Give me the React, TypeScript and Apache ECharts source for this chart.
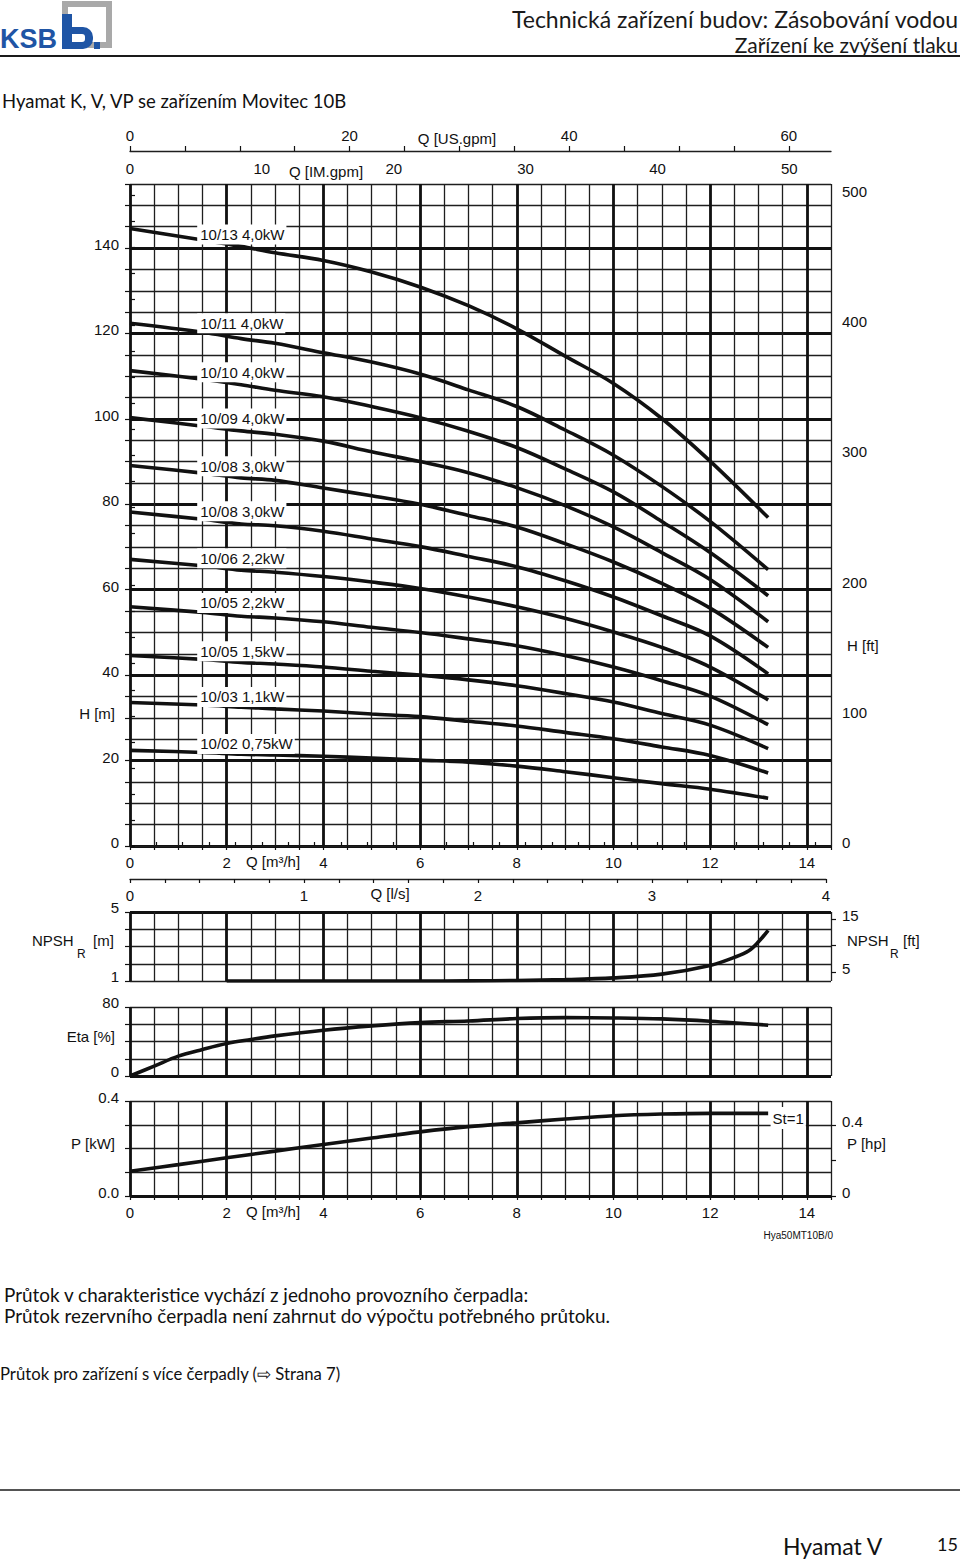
import React, { useEffect, useRef } from 'react';
import * as echarts from 'echarts';

// ---------------- data ----------------
const flowH = [0, 1.5, 2.3, 3, 4, 5, 6, 7, 8, 9, 10, 11, 12, 13.2];
const pumpLabels = [
  '10/13 4,0kW', '10/11 4,0kW', '10/10 4,0kW', '10/09 4,0kW', '10/08 3,0kW', '10/08 3,0kW',
  '10/06 2,2kW', '10/05 2,2kW', '10/05 1,5kW', '10/03 1,1kW', '10/02 0,75kW',
];
const head_10_13 = [144.6, 141.9, 140.4, 138.9, 137.1, 134.4, 130.9, 126.5, 121.1, 114.7, 108.3, 100.1, 90.1, 76.9];
const head_10_11 = [122.4, 120.3, 118.8, 117.7, 115.5, 113.3, 110.5, 106.8, 102.9, 97.4, 91.5, 84.2, 76.0, 64.7];
const head_10_10 = [111.3, 109.3, 108.0, 106.7, 105.2, 102.9, 100.3, 97.1, 93.3, 88.3, 82.9, 76.0, 68.7, 58.6];
const head_10_09 = [100.3, 98.3, 97.2, 96.4, 94.8, 92.3, 90.0, 87.4, 83.9, 79.7, 74.7, 68.7, 62.4, 52.5];
const head_10_08a = [89.1, 87.3, 86.2, 85.6, 83.8, 82.0, 80.0, 77.4, 74.7, 70.8, 66.5, 61.5, 55.7, 46.5];
const head_10_08b = [78.2, 76.5, 75.4, 75.0, 73.7, 71.9, 70.1, 67.8, 65.4, 62.1, 58.3, 53.9, 49.2, 40.3];
const head_10_06 = [67.1, 65.6, 64.6, 64.1, 63.1, 61.8, 60.3, 58.3, 56.0, 53.3, 50.1, 46.5, 41.9, 34.2];
const head_10_05a = [56.0, 54.7, 53.8, 53.4, 52.5, 51.2, 50.0, 48.5, 46.9, 44.6, 41.9, 38.7, 35.1, 28.4];
const head_10_05b = [44.6, 43.7, 43.0, 42.6, 41.9, 40.9, 40.0, 38.9, 37.5, 35.7, 33.7, 31.0, 28.3, 22.8];
const head_10_03 = [33.6, 33.0, 32.5, 32.1, 31.6, 30.9, 30.3, 29.2, 28.1, 26.6, 25.1, 23.2, 21.2, 17.1];
const head_10_02 = [22.4, 21.9, 21.5, 21.3, 21.0, 20.6, 20.1, 19.6, 18.7, 17.4, 16.0, 14.6, 13.3, 11.2];
const headCurves = [head_10_13, head_10_11, head_10_10, head_10_09, head_10_08a, head_10_08b, head_10_06, head_10_05a, head_10_05b, head_10_03, head_10_02];

const flowNpsh = [2, 4, 6, 7, 8, 9, 10, 11, 12, 12.5, 12.8, 13, 13.2];
const npshR = [1.0, 1.0, 1.0, 1.01, 1.03, 1.08, 1.18, 1.4, 1.9, 2.37, 2.75, 3.27, 3.94];

const flowEta = [0, 0.5, 1, 1.5, 2, 2.5, 3, 4, 5, 6, 7, 8, 9, 10, 11, 12, 13.2];
const etaPct = [0, 11.5, 23, 30.8, 37.7, 42.3, 46.5, 53.1, 58.1, 61.9, 63.8, 66.6, 67.7, 67.3, 66.2, 63.5, 58.9];

const flowP = [0, 1, 2, 3, 4, 5, 6, 7, 8, 9, 10, 11, 12, 13.2];
const powerKw = [0.104, 0.132, 0.161, 0.189, 0.217, 0.244, 0.27, 0.292, 0.308, 0.324, 0.338, 0.345, 0.348, 0.348];

// tick labels
const qM3hTicks = [0, 2, 4, 6, 8, 10, 12, 14];
const qImTicks = [0, 10, 20, 30, 40, 50];
const qUsTicks = [0, 20, 40, 60];
const qLsTicks = [0, 1, 2, 3, 4];
const hMTicks = [0, 20, 40, 60, 80, 100, 120, 140];
const hFtTicks = [0, 100, 200, 300, 400, 500];
const npshMTicks = [1, 5];
const npshFtTicks = [5, 15];
const etaTicks = [0, 80];
const pKwTicks = [0, 0.4];
const pHpTicks = [0, 0.4];

// label anchors (data units) for curve names
const labelAnchorQ = 1.39;
const labelAnchorH = [143.2, 122.4, 110.9, 100.1, 88.9, 78.4, 67.4, 56.9, 45.6, 34.9, 23.9];

// ---------------- constants ----------------
const Q_MAX = 14.5;
const H_MAX = 155;
const M3H_PER_IMGPM = 0.272765;
const M3H_PER_USGPM = 0.2271247;
const M_PER_FT = 0.3048;
const KW_PER_HP = 0.7457;

const INK = '#111';
const FONT = "'Liberation Sans', Arial, sans-serif";
const HFONT = "Lato, 'Open Sans', sans-serif";
const THIN = { color: '#1e1e1e', width: 1.3 };
const THICK = { color: '#111', width: 2.8 };
const LBL = { color: INK, fontFamily: FONT, fontSize: 15 };

const range = (a: number, b: number, step: number) => {
  const out: number[] = [];
  for (let i = 0; a + i * step <= b + 1e-9; i++) out.push(+(a + i * step).toFixed(6));
  return out;
};

const tickStyle = (length: number) => ({ show: true, length, lineStyle: { color: INK, width: 1.2 } });

// y labels sit a few pixels above their tick, as in the reference
const raised = (lh: number) => ({ verticalAlign: 'bottom', lineHeight: lh });

function gx(gridIndex: number, thick: boolean, extra: any = {}) {
  return {
    type: 'value', gridIndex, min: 0, max: Q_MAX, interval: thick ? 2 : 0.5, position: 'bottom',
    axisLine: { show: false }, axisTick: { show: false }, axisLabel: { show: false },
    splitLine: { show: true, lineStyle: thick ? THICK : THIN, showMaxLine: !thick },
    ...extra,
  };
}

function gy(gridIndex: number, min: number, max: number, interval: number, lineStyle: any, extra: any = {}) {
  return {
    type: 'value', gridIndex, min, max, interval, position: 'left',
    axisLine: { show: false }, axisTick: { show: false }, axisLabel: { show: false },
    splitLine: { show: true, lineStyle },
    ...extra,
  };
}

function sideAxis(gridIndex: number, min: number, max: number, interval: number, ticks: number[], labels: number[], extra: any = {}) {
  return {
    type: 'value', gridIndex, min, max, interval, position: 'right',
    axisLine: { show: false },
    axisTick: { ...tickStyle(5), customValues: ticks },
    axisLabel: { show: true, customValues: labels, margin: 11, ...LBL, ...raised(7) },
    splitLine: { show: false },
    ...extra,
  };
}

const txt = (text: string, x: number, y: number, o: any = {}) => ({
  type: 'text', x, y, silent: true,
  style: { text, fill: INK, fontFamily: FONT, fontSize: 15, align: 'left', verticalAlign: 'middle', ...o },
});

function buildOption() {
  const grid = [
    { left: 130, top: 184, width: 701, height: 662 }, // 0: H
    { left: 130, top: 846, width: 696, height: 33 }, // 1: l/s strip
    { left: 130, top: 912, width: 701, height: 69 }, // 2: NPSH
    { left: 130, top: 1007, width: 701, height: 69 }, // 3: Eta
    { left: 130, top: 1101, width: 701, height: 95 }, // 4: P
  ];

  const xAxis: any[] = [
    gx(0, false, { axisTick: tickStyle(4) }), // 0
    gx(0, true, { axisLabel: { show: true, customValues: qM3hTicks, margin: 9, ...LBL } }), // 1
    {
      type: 'value', gridIndex: 0, position: 'top', min: 0, max: Q_MAX / M3H_PER_IMGPM, interval: 2,
      axisLine: { show: true, lineStyle: THIN }, axisTick: { ...tickStyle(4), customValues: range(0, 52, 2) },
      axisLabel: { show: true, customValues: qImTicks, margin: 8, ...LBL }, splitLine: { show: false },
    }, // 2
    {
      type: 'value', gridIndex: 0, position: 'top', offset: 33, min: 0, max: Q_MAX / M3H_PER_USGPM, interval: 5,
      axisLine: { show: true, lineStyle: THIN }, axisTick: { ...tickStyle(5), customValues: range(0, 60, 5) },
      axisLabel: { show: true, customValues: qUsTicks, margin: 8, ...LBL }, splitLine: { show: false },
    }, // 3
    {
      type: 'value', gridIndex: 1, position: 'bottom', min: 0, max: 4, interval: 0.2,
      axisLine: { show: true, lineStyle: THIN }, axisTick: { ...tickStyle(4), customValues: range(0, 4, 0.2) },
      axisLabel: { show: true, customValues: qLsTicks, margin: 9, ...LBL }, splitLine: { show: false },
    }, // 4
    gx(2, false), // 5
    gx(2, true), // 6
    gx(3, false), // 7
    gx(3, true), // 8
    gx(4, false, { axisTick: tickStyle(4) }), // 9
    gx(4, true, { axisLabel: { show: true, customValues: qM3hTicks, margin: 9, ...LBL } }), // 10
  ];

  const yLabel = (values: number[], lh: number, fmt?: (v: number) => string) => ({
    show: true, customValues: values, margin: 11, ...LBL, ...raised(lh),
    ...(fmt ? { formatter: fmt } : {}),
  });

  const yAxis: any[] = [
    gy(0, 0, H_MAX, 5, THIN, { axisTick: tickStyle(5) }), // 0
    gy(0, 0, H_MAX, 20, THICK, { axisLabel: yLabel(hMTicks, 7), splitLine: { show: true, lineStyle: THICK, showMaxLine: false } }), // 1
    sideAxis(0, 0, H_MAX / M_PER_FT, 20, range(0, 500, 20), hFtTicks), // 2
    { type: 'value', gridIndex: 1, show: false, min: 0, max: 1 }, // 3
    gy(2, 1, 5, 1, THIN, { axisTick: tickStyle(5) }), // 4
    gy(2, 1, 5, 4, THICK, { axisLabel: yLabel(npshMTicks, 9), splitLine: { show: true, lineStyle: THICK, showMinLine: false } }), // 5
    sideAxis(2, 1 / M_PER_FT, 5 / M_PER_FT, 5, [5, 10, 15], npshFtTicks), // 6
    gy(3, 0, 80, 20, THIN, { axisTick: tickStyle(5) }), // 7
    gy(3, 0, 80, 80, THICK, { axisLabel: yLabel(etaTicks, 9), splitLine: { show: true, lineStyle: THICK, showMaxLine: false } }), // 8
    gy(4, 0, 0.4, 0.1, THIN, { axisTick: tickStyle(5) }), // 9
    gy(4, 0, 0.4, 0.4, THICK, { axisLabel: yLabel(pKwTicks, 8, (v: number) => v.toFixed(1)), splitLine: { show: true, lineStyle: THICK, showMaxLine: false } }), // 10
    sideAxis(4, 0, 0.4 / KW_PER_HP, 0.2, [0, 0.2, 0.4], pHpTicks, {
      axisLabel: { show: true, customValues: pHpTicks, margin: 11, ...LBL, ...raised(7), formatter: (v: number) => (v === 0 ? '0' : String(v)) },
    }), // 11
  ];

  const curveLine = { color: INK, width: 3.6 };
  const boxLabel = (text: string) => ({
    show: true, position: 'right', distance: 0, formatter: text, backgroundColor: '#fff',
    padding: [3, 2, 2, 3], ...LBL,
  });

  const series: any[] = headCurves.map((h, i) => ({
    type: 'line', name: pumpLabels[i], xAxisIndex: 0, yAxisIndex: 0,
    data: flowH.map((q, j) => [q, h[j]]), smooth: 0.35, symbol: 'none', silent: true,
    lineStyle: curveLine, z: 3,
    markPoint: {
      symbol: 'circle', symbolSize: 0, silent: true, animation: false,
      data: [{ coord: [labelAnchorQ, labelAnchorH[i]] }],
      label: boxLabel(pumpLabels[i]),
    },
  }));

  series.push(
    {
      type: 'line', name: 'NPSHR', xAxisIndex: 5, yAxisIndex: 4, smooth: 0.35, symbol: 'none', silent: true,
      data: flowNpsh.map((q, j) => [q, npshR[j]]), lineStyle: curveLine, z: 3,
    },
    {
      type: 'line', name: 'Eta', xAxisIndex: 7, yAxisIndex: 7, smooth: 0.35, symbol: 'none', silent: true,
      data: flowEta.map((q, j) => [q, etaPct[j]]), lineStyle: curveLine, z: 3,
    },
    {
      type: 'line', name: 'P', xAxisIndex: 9, yAxisIndex: 9, smooth: 0.35, symbol: 'none', silent: true,
      data: flowP.map((q, j) => [q, powerKw[j]]), lineStyle: curveLine, z: 3,
      markPoint: {
        symbol: 'circle', symbolSize: 0, silent: true, animation: false,
        data: [{ coord: [13.25, 0.328] }],
        label: { ...boxLabel('St=1'), padding: [3, 2, 4, 2] },
      },
    },
  );

  const BLUE = '#1f55a5';
  const graphic: any[] = [
    // logo
    { type: 'polyline', silent: true, shape: { points: [[65, 20], [65, 4], [109, 4], [109, 45], [88, 45]] }, style: { stroke: '#a9a9a9', lineWidth: 6, fill: null } },
    { type: 'rect', silent: true, shape: { x: 62, y: 14, width: 10, height: 35 }, style: { fill: BLUE } },
    { type: 'rect', silent: true, shape: { x: 62, y: 27, width: 31, height: 22, r: [0, 10, 10, 0] }, style: { fill: BLUE } },
    { type: 'rect', silent: true, shape: { x: 72, y: 34, width: 13, height: 8, r: [0, 3, 3, 0] }, style: { fill: '#fff' } },
    { type: 'rect', silent: true, shape: { x: 94, y: 42, width: 6, height: 7 }, style: { fill: BLUE } },
    txt('KSB', 0, 39, { fontSize: 27, fontWeight: 'bold', fill: BLUE, fontFamily: FONT }),
    // header
    txt('Technická zařízení budov: Zásobování vodou', 958, 19, { align: 'right', fontFamily: HFONT, fontSize: 23, fill: '#1a1a1a' }),
    txt('Zařízení ke zvýšení tlaku', 958, 44, { align: 'right', fontFamily: HFONT, fontSize: 21, fill: '#1a1a1a' }),
    { type: 'line', silent: true, shape: { x1: 0, y1: 56, x2: 960, y2: 56 }, style: { stroke: '#1a1a1a', lineWidth: 2 } },
    txt('Hyamat K, V, VP se zařízením Movitec 10B', 2, 101, { fontFamily: HFONT, fontSize: 18.5 }),
    // axis titles
    txt('Q [US.gpm]', 457, 138, { align: 'center' }),
    txt('Q [IM.gpm]', 326, 171, { align: 'center' }),
    txt('Q [m³/h]', 273, 861, { align: 'center' }),
    txt('Q [l/s]', 390, 893, { align: 'center' }),
    txt('Q [m³/h]', 273, 1211, { align: 'center' }),
    txt('H [m]', 115, 713, { align: 'right' }),
    txt('H [ft]', 847, 645),
    txt('NPSH', 32, 940),
    txt('R', 77, 954, { fontSize: 12 }),
    txt('[m]', 93, 940),
    txt('NPSH', 847, 940),
    txt('R', 890, 954, { fontSize: 12 }),
    txt('[ft]', 903, 940),
    txt('Eta [%]', 115, 1036, { align: 'right' }),
    txt('P [kW]', 115, 1143, { align: 'right' }),
    txt('P [hp]', 847, 1143),
    txt('Hya50MT10B/0', 833, 1235, { align: 'right', fontSize: 10 }),
    // footer
    txt('Průtok v charakteristice vychází z jednoho provozního čerpadla:', 4, 1294, { fontFamily: HFONT, fontSize: 18.9 }),
    txt('Průtok rezervního čerpadla není zahrnut do výpočtu potřebného průtoku.', 4, 1315, { fontFamily: HFONT, fontSize: 18.9 }),
    txt('Průtok pro zařízení s více čerpadly (⇨ Strana 7)', 0, 1374, { fontFamily: HFONT, fontSize: 16.7 }),
    { type: 'line', silent: true, shape: { x1: 0, y1: 1490, x2: 960, y2: 1490 }, style: { stroke: '#1a1a1a', lineWidth: 1.5 } },
    txt('Hyamat V', 783, 1546, { fontFamily: HFONT, fontSize: 23 }),
    txt('15', 958, 1544, { align: 'right', fontFamily: HFONT, fontSize: 18 }),
  ];

  return {
    animation: false,
    backgroundColor: '#fff',
    grid, xAxis, yAxis, series, graphic,
  };
}

export default function App() {
  const ref = useRef<HTMLDivElement>(null);
  useEffect(() => {
    if (!ref.current) return;
    const chart = echarts.init(ref.current, null, { renderer: 'svg' });
    chart.setOption(buildOption() as any);
    return () => chart.dispose();
  }, []);
  return (
    <div
      ref={ref}
      style={{ position: 'absolute', left: 0, top: 0, width: 960, height: 1560, background: '#fff' }}
    />
  );
}
